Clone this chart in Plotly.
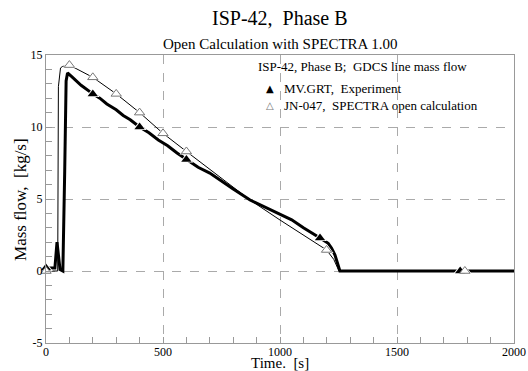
import plotly.graph_objects as go

# Experiment (MV.GRT) - thick line
exp_t = [0, 38, 47, 60, 72, 76, 80, 86, 92, 110, 150, 200, 230, 260, 300, 330, 360, 400, 440, 480,
         520, 560, 600, 650, 700, 744, 800, 872, 950, 1000, 1050, 1100, 1142, 1171, 1206, 1220,
         1235, 1248, 1256, 1400, 1600, 1800, 2000]
exp_v = [0.2, 0.2, 2.0, 0.1, 0.0, 2.5, 7.0, 13.2, 13.75, 13.5, 12.9, 12.3, 12.0, 11.6, 11.2, 10.8,
         10.5, 10.0, 9.6, 9.1, 8.7, 8.2, 7.75, 7.2, 6.8, 6.3, 5.7, 4.93, 4.3, 3.9, 3.55, 3.0, 2.6,
         2.29, 1.92, 1.6, 1.1, 0.5, 0.0, 0.0, 0.0, 0.0, 0.0]
exp_mark_t = [0, 200, 400, 600, 1171, 1770]
exp_mark_v = [0.2, 12.3, 10.0, 7.75, 2.29, 0.0]

# SPECTRA open calculation (JN-047) - thin line
calc_t = [0, 50, 53, 62, 70, 100, 200, 300, 400, 500, 600, 700, 800, 872, 1000, 1100, 1157,
          1199, 1230, 1252, 1400, 1600, 1800, 2000]
calc_v = [0.0, 0.0, 12.8, 14.1, 14.2, 14.3, 13.45, 12.3, 11.0, 9.56, 8.3, 7.05, 5.85, 4.93, 3.54,
          2.5, 1.9, 1.46, 0.8, 0.0, 0.0, 0.0, 0.0, 0.0]
calc_mark_t = [0, 100, 200, 300, 400, 500, 600, 1199, 1790]
calc_mark_v = [0.0, 14.3, 13.45, 12.3, 11.0, 9.56, 8.3, 1.46, 0.0]

x_ticks = [0, 500, 1000, 1500, 2000]
y_ticks = [-5, 0, 5, 10, 15]

SERIF = "Liberation Serif"

fig = go.Figure()
fig.add_trace(go.Scatter(x=calc_t, y=calc_v, mode="lines",
                         line=dict(color="black", width=1), showlegend=False))
fig.add_trace(go.Scatter(x=exp_t, y=exp_v, mode="lines",
                         line=dict(color="black", width=3), showlegend=False))
# white halos behind markers
for tt, vv in ((exp_mark_t, exp_mark_v), (calc_mark_t, calc_mark_v)):
    fig.add_trace(go.Scatter(x=tt, y=vv, mode="markers", cliponaxis=False,
                             marker=dict(symbol="triangle-up", size=12, color="white"),
                             showlegend=False))
fig.add_trace(go.Scatter(x=exp_mark_t, y=exp_mark_v, mode="markers", cliponaxis=False,
                         marker=dict(symbol="triangle-up", size=9, color="black",
                                     line=dict(width=0)), showlegend=False))
fig.add_trace(go.Scatter(x=calc_mark_t, y=calc_mark_v, mode="markers", cliponaxis=False,
                         marker=dict(symbol="triangle-up", size=9, color="white",
                                     line=dict(color="#777777", width=1)), showlegend=False))

axis_common = dict(
    showline=True, linecolor="#999999", linewidth=1, mirror=True,
    showgrid=True, gridcolor="#aaaaaa", griddash="dash", gridwidth=1,
    zeroline=False, ticks="inside", ticklen=6, tickcolor="#999999",
    tickfont=dict(family=SERIF, size=12, color="black"), automargin=False,
)
fig.update_xaxes(range=[0, 2000], tickvals=x_ticks, ticktext=[str(v) for v in x_ticks],
                 ticklabelstandoff=-2,
                 minor=dict(dtick=100, ticks="inside", ticklen=6, tickcolor="#999999",
                            showgrid=False),
                 **axis_common)
fig.update_yaxes(range=[-5, 15], tickvals=y_ticks, ticktext=[str(v) for v in y_ticks],
                 minor=dict(dtick=1, ticks="inside", ticklen=6, tickcolor="#999999",
                            showgrid=False),
                 **axis_common)

ann = [
    dict(text="ISP-42,\u00a0 Phase B", x=0.5, y=1.128, font=dict(size=20)),
    dict(text="Open Calculation with SPECTRA 1.00", x=0.5, y=1.038, font=dict(size=15)),
    dict(text="Time.\u00a0 [s]", x=0.5, y=-0.07, font=dict(size=15)),
    dict(text="Mass flow,\u00a0 [kg/s]", x=-0.0556, y=0.5, textangle=-90, font=dict(size=17)),
    dict(text="ISP-42, Phase B;\u00a0 GDCS line mass flow", x=0.4509, y=0.960,
         xanchor="left", font=dict(size=13)),
    dict(text="MV.GRT,\u00a0 Experiment", x=0.506, y=0.885, xanchor="left", font=dict(size=13)),
    dict(text="JN-047,\u00a0 SPECTRA open calculation", x=0.506, y=0.826, xanchor="left",
         font=dict(size=13)),
    dict(text="\u25b2", x=0.478, y=0.885, font=dict(size=10, family="DejaVu Sans")),
    dict(text="\u25b3", x=0.478, y=0.826, font=dict(size=10, family="DejaVu Sans", color="#777777")),
]
annotations = []
for a in ann:
    base = dict(xref="paper", yref="paper", showarrow=False, xanchor="center", yanchor="middle",
                borderpad=0)
    f = dict(family=SERIF, color="black")
    f.update(a.pop("font"))
    base.update(a)
    base["font"] = f
    annotations.append(base)

fig.update_layout(
    width=528, height=371,
    margin=dict(l=46, r=14, t=55, b=28, autoexpand=False),
    paper_bgcolor="white", plot_bgcolor="white",
    annotations=annotations,
    showlegend=False,
)
fig.write_html("out.html")
